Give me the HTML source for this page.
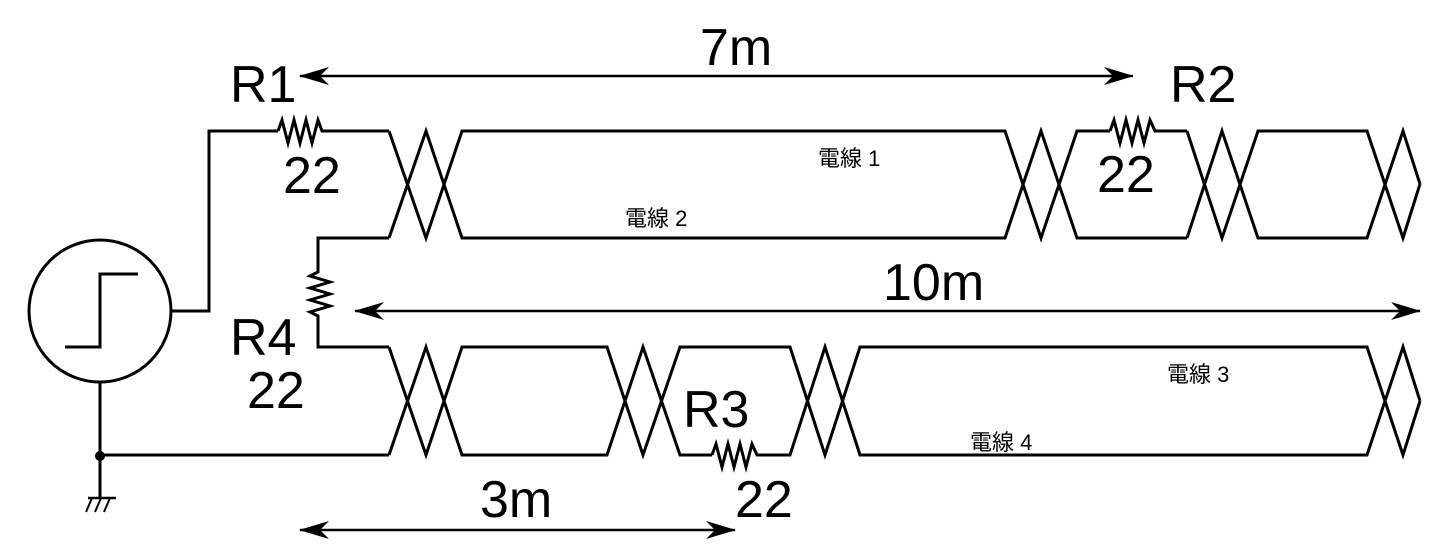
<!DOCTYPE html>
<html><head><meta charset="utf-8"><style>
html,body{margin:0;padding:0;background:#fff;}
svg{display:block;}
text{font-family:"Liberation Sans","Noto Sans CJK JP",sans-serif;fill:#000;}
.big{font-size:52px;}
.sm{font-size:22px;}
</style></head><body>
<svg width="1451" height="553" viewBox="0 0 1451 553" xmlns="http://www.w3.org/2000/svg">
<defs>
<marker id="ah" viewBox="0 0 30 18" refX="29" refY="9" markerWidth="30" markerHeight="18" markerUnits="userSpaceOnUse" orient="auto-start-reverse">
<path d="M0,0 L30,9 L0,18 L9,9 Z" fill="#000"/>
</marker>
</defs>
<g fill="none" stroke="#000" stroke-width="3" stroke-linejoin="miter">
<circle cx="100" cy="311" r="71"/>
<polyline points="65,347 100,347 100,274 138,274"/>
<polyline points="172,311 209,311 209,131 278,131"/>
<polyline points="278,131 282,120 288,143 294,120 300,143 306,120 312,143 318,120 322,131 389,131"/>
<polyline points="100,383 100,497"/>
<line x1="100" y1="455" x2="389" y2="455"/>
<line x1="88" y1="498" x2="116" y2="498" stroke-width="2.5"/>
<line x1="92" y1="498" x2="86" y2="512" stroke-width="2"/>
<line x1="101" y1="498" x2="95" y2="512" stroke-width="2"/>
<line x1="110" y1="498" x2="104" y2="512" stroke-width="2"/>
<polyline points="389,238 318,238 318,272 310,276 330,282 310,288 330,294 310,300 330,306 310,312 318,316 318,347 389,347"/>

<polyline points="389,131 426,238 462,131 1005,131 1041,238 1077,131 1110,131"/>
<polyline points="389,238 426,131 462,238 1005,238 1041,131 1077,238 1187,238"/>
<polyline points="1110,131 1114,120 1120,143 1126,120 1132,143 1138,120 1144,143 1150,120 1155,131 1187,131"/>
<polyline points="1187,131 1222,238 1258,131 1367,131 1403,238 1420,184"/>
<polyline points="1187,238 1222,131 1258,238 1367,238 1403,131 1420,184"/>

<polyline points="389,347 426,455 462,347 607,347 643,455 680,347 790,347 825,455 860,347 1367,347 1403,455 1420,401"/>
<polyline points="389,455 426,347 462,455 607,455 643,347 680,455 712,455"/>
<polyline points="712,455 716,444 722,467 728,444 734,467 740,444 746,467 752,444 757,455 790,455 825,347 860,455 1367,455 1403,347 1420,401"/>

<line x1="300" y1="76" x2="1133" y2="76" stroke-width="2.5" marker-start="url(#ah)" marker-end="url(#ah)"/>
<line x1="355" y1="311" x2="1420" y2="311" stroke-width="2.5" marker-start="url(#ah)" marker-end="url(#ah)"/>
<line x1="300" y1="530" x2="735" y2="530" stroke-width="2.5" marker-start="url(#ah)" marker-end="url(#ah)"/>
</g>
<circle cx="100" cy="456" r="5" fill="#000"/>

<text class="big" x="230" y="102">R1</text>
<text class="big" x="283" y="193">22</text>
<text class="big" x="230" y="355">R4</text>
<text class="big" x="247" y="408">22</text>
<text class="big" x="1170" y="102">R2</text>
<text class="big" x="1097" y="192">22</text>
<text class="big" x="683" y="427">R3</text>
<text class="big" x="735" y="517">22</text>
<text class="big" x="700" y="65">7m</text>
<text class="big" x="883" y="300">10m</text>
<text class="big" x="480" y="517">3m</text>
<text class="sm" x="818" y="166">電線 1</text>
<text class="sm" x="625" y="226">電線 2</text>
<text class="sm" x="1167" y="382">電線 3</text>
<text class="sm" x="970" y="450">電線 4</text>
</svg>
</body></html>
